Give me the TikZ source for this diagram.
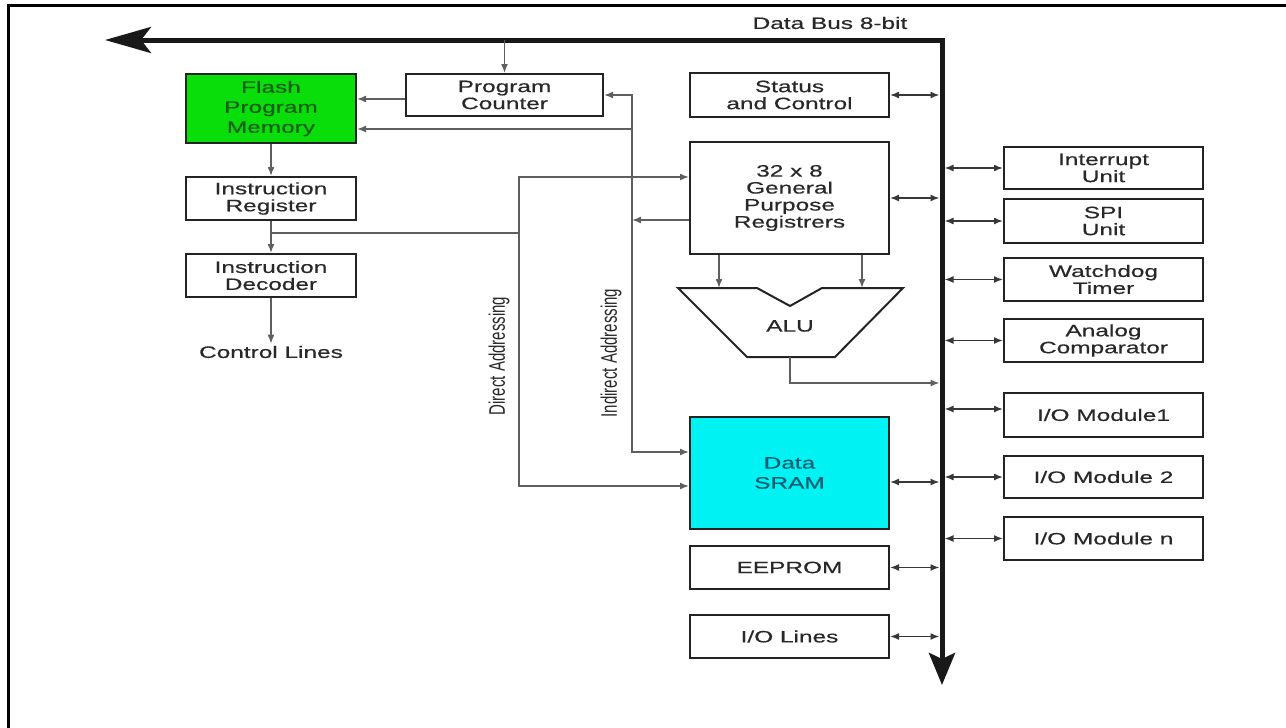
\documentclass[tikz,border=0pt]{standalone}
\usepackage{fontspec}
\setmainfont{Liberation Sans}[FakeStretch=1.48,FakeBold=0.5]
\newfontfamily\plainsans{Liberation Sans}
\usepackage{graphicx}
\usetikzlibrary{arrows.meta,calc}
\definecolor{flashgreen}{RGB}{10,222,10}
\definecolor{flashtext}{RGB}{20,95,20}
\definecolor{sramcyan}{RGB}{0,242,242}
\definecolor{sramtext}{RGB}{0,95,115}
\definecolor{txt}{RGB}{40,40,40}
\definecolor{edge}{RGB}{35,35,35}
\definecolor{wire}{RGB}{95,95,95}
\definecolor{dwire}{RGB}{55,55,55}
\begin{document}
\begin{tikzpicture}[x=1pt,y=-1pt,
  >={Latex[length=9pt,width=7pt]},
  box/.style={draw=edge, line width=2pt, rectangle, inner sep=0pt, align=center,
              text=txt, font=\fontsize{16.5}{17}\selectfont},
  leftbox/.style={box, minimum width=170pt, minimum height=43pt},
  midbox/.style={box, minimum width=199pt, minimum height=43pt},
  rightbox/.style={box, minimum width=199pt, minimum height=43pt},
  lbl/.style={text=txt, inner sep=2pt, font=\fontsize{16.5}{17}\selectfont},
  conn/.style={draw=wire, line width=1.5pt},
  dbl/.style={draw=dwire, line width=1.5pt, <->, shorten >=2.5pt},
  busline/.style={draw=black!90, line width=5pt, line join=miter},
  sidelbl/.style={rotate=90, text=txt, inner sep=0pt}
]
\useasboundingbox (0,0) rectangle (1286,728);

% frame
\coordinate (frBL) at (8,728);
\coordinate (frTL) at (8,5);
\coordinate (frTR) at (1286,5);
\draw[line width=3pt, line join=miter] (frBL) -- (frTL) -- (frTR);

% data bus
\coordinate (busL) at (105,40);
\coordinate (busC) at (942,40);
\coordinate (busB) at (942,685);
\draw[busline, {Stealth[length=46pt,width=26pt,inset=10pt]}-{Stealth[length=32pt,width=26pt,inset=6pt]}]
  (busL) -- (busC) -- (busB);
\node[lbl] (buslbl) at (830,23) {Data Bus 8-bit};

% boxes
\node[box, fill=flashgreen, text=flashtext, minimum width=170pt, minimum height=69pt,
      font=\fontsize{16.5}{20}\selectfont] (flash) at (271,108.5) {Flash\\Program\\Memory};
\node[box, minimum width=197pt, minimum height=42pt] (pc) at (504.5,95) {Program\\Counter};
\node[midbox, minimum height=44pt] (status) at (789.5,95) {Status\\and Control};
\node[leftbox] (ir) at (271,198.5) {Instruction\\Register};
\node[leftbox] (id) at (271,275.5) {Instruction\\Decoder};
\node[lbl] (ctl) at (271,352) {Control Lines};
\node[midbox, minimum height=112pt] (gpr) at (789.5,198) {32 x 8\\General\\Purpose\\Registrers};
\node[midbox, minimum height=112pt, fill=sramcyan, text=sramtext,
      font=\fontsize{16.5}{20}\selectfont] (sram) at (789.5,473) {Data\\SRAM};
\node[midbox] (eeprom) at (789.5,567.5) {EEPROM};
\node[midbox] (iolines) at (789.5,636.5) {I/O Lines};

\node[rightbox, minimum height=42pt] (intr) at (1103.5,168) {Interrupt\\Unit};
\node[rightbox, minimum height=44pt] (spi) at (1103.5,221) {SPI\\Unit};
\node[rightbox] (wdt) at (1103.5,279.5) {Watchdog\\Timer};
\node[rightbox] (acomp) at (1103.5,340.5) {Analog\\Comparator};
\node[rightbox, minimum height=44pt] (io1) at (1103.5,415) {I/O Module1};
\node[rightbox, minimum height=42pt] (io2) at (1103.5,477) {I/O Module 2};
\node[rightbox] (ion) at (1103.5,538.5) {I/O Module n};

% ALU
\coordinate (aluTL) at (678,288);
\coordinate (aluN1) at (757,288);
\coordinate (aluNB) at (790,306);
\coordinate (aluN2) at (822,288);
\coordinate (aluTR) at (903,288);
\coordinate (aluBR) at (835,357);
\coordinate (aluBL) at (747,357);
\draw[draw=edge, line width=2pt, line join=miter]
  (aluTL) -- (aluN1) -- (aluNB) -- (aluN2) -- (aluTR) -- (aluBR) -- (aluBL) -- cycle;
\node[lbl] (alu) at (790,326) {ALU};
\coordinate (aluIn1) at (719,288);
\coordinate (aluIn2) at (862,288);
\coordinate (aluOut) at (790,357);
\coordinate (aluLvl) at (790,383);

% vertical addressing lines
\coordinate (indx) at (632,0);
\coordinate (dirx) at (519,0);
\coordinate (sramI) at ([yshift=21pt]sram.west);
\coordinate (sramD) at ([yshift=-13pt]sram.west);
\coordinate (gprI) at ([yshift=21pt]gpr.west);
\coordinate (gprO) at ([yshift=-22pt]gpr.west);
\coordinate (flashI) at ([yshift=-20.5pt]flash.east);
\coordinate (pcO) at ([yshift=-4pt]pc.west);
\coordinate (irB) at ($(ir.south)!0.38!(id.north)$);
\coordinate (sramE) at ([yshift=-9pt]sram.east);
\coordinate (io1W) at ([yshift=6pt]io1.west);

% connectors
\draw[conn,->] (pc.north |- busC) -- (pc.north);
\draw[conn,->] (pcO) -- (pcO -| flash.east);
\draw[conn,<->] (pc.east) -- (indx |- pc.east) -- (indx |- sramI) -- (sramI);
\draw[conn,->] (indx |- flashI) -- (flashI);
\draw[conn,->] (gprO) -- (indx |- gprO);
\draw[conn,->] (flash.south) -- (ir.north);
\draw[conn,->] (ir.south) -- (id.north);
\draw[conn,->] (id.south) -- (ctl.north);
\draw[conn] (irB) -- (dirx |- irB);
\draw[conn,<->] (gprI) -- (dirx |- gprI) -- (dirx |- sramD) -- (sramD);
\draw[conn,->] (aluIn1 |- gpr.south) -- (aluIn1);
\draw[conn,->] (aluIn2 |- gpr.south) -- (aluIn2);
\draw[conn,->, shorten >=2.5pt] (aluOut) -- (aluLvl) -- (busC |- aluLvl);

% bus links
\draw[dbl] (status.east) -- (busC |- status.east);
\draw[dbl] (gpr.east) -- (busC |- gpr.east);
\draw[dbl] (sramE) -- (busC |- sramE);
\draw[dbl] (eeprom.east) -- (busC |- eeprom.east);
\draw[dbl] (iolines.east) -- (busC |- iolines.east);
\draw[dbl] (intr.west) -- (busC |- intr.west);
\draw[dbl] (spi.west) -- (busC |- spi.west);
\draw[dbl] (wdt.west) -- (busC |- wdt.west);
\draw[dbl] (acomp.west) -- (busC |- acomp.west);
\draw[dbl] (io1W) -- (busC |- io1W);
\draw[dbl] (io2.west) -- (busC |- io2.west);
\draw[dbl] (ion.west) -- (busC |- ion.west);

% rotated labels
\node[sidelbl] (dirlbl) at (499,356) {\plainsans\fontsize{15}{16}\selectfont\scalebox{1}[1.5]{Direct Addressing}};
\node[sidelbl] (indlbl) at (611,353) {\plainsans\fontsize{15}{16}\selectfont\scalebox{1}[1.5]{Indirect Addressing}};
\end{tikzpicture}
\end{document}
